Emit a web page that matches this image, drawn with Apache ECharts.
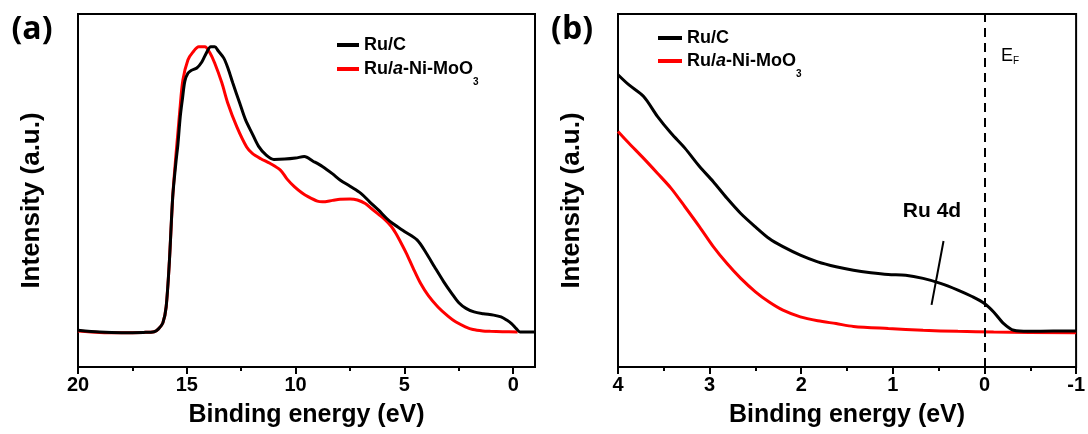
<!DOCTYPE html>
<html>
<head>
<meta charset="utf-8">
<script src="https://cdn.jsdelivr.net/npm/echarts@6/dist/echarts.min.js"></script>
<style>html,body{margin:0;padding:0;background:#fff}#c{width:1088px;height:434px}</style>
</head>
<body>
<div id="c"></div>
<script>
// Panel (a): [binding energy (eV), intensity (a.u.)]
const aRuC = [[20,10.4],[19,9.9],[18,9.7],[17,9.8],[16.5,10.0],[16.3,10.8],[16.1,12.5],[15.95,17],[15.8,30],[15.65,48],[15.5,58],[15.41,63],[15.3,71],[15.2,76],[15.09,81],[14.95,83.2],[14.8,84],[14.54,84.7],[14.31,86.4],[14.08,89.2],[13.9,90.7],[13.72,90.7],[13.55,89.5],[13.3,87.5],[13.1,84.5],[12.89,80.5],[12.57,74.8],[12.3,70],[12.0,66.2],[11.7,62.5],[11.35,60],[11.0,58.8],[10.5,58.9],[10.0,59.2],[9.6,59.6],[9.2,58.3],[8.77,56.8],[8.3,54.7],[7.96,53.0],[7.5,51.2],[7.0,49.2],[6.6,46.8],[6.2,44.5],[5.8,42],[5.55,40.7],[5.0,38.4],[4.42,36.0],[4.0,32.3],[3.62,28.4],[3.2,24.2],[2.82,20.8],[2.5,18.2],[2.17,16.6],[1.8,15.6],[1.37,15.1],[0.9,14.7],[0.56,14.2],[0.3,13.3],[0.08,12.3],[-0.15,10.8],[-0.32,9.9],[-0.6,9.9],[-1.0,9.9]];
const aRuNi = [[20,10.2],[19,9.8],[18,9.7],[17,9.8],[16.5,10.0],[16.3,10.8],[16.1,12.5],[15.95,17],[15.8,30],[15.65,48],[15.5,60],[15.4,67],[15.32,72.8],[15.18,81.3],[14.95,87],[14.72,89.2],[14.45,90.7],[14.17,90.7],[13.94,89],[13.72,86.1],[13.39,80.5],[13.12,74.8],[12.7,68],[12.25,62.3],[11.99,60.5],[11.6,59],[11.18,57.7],[10.7,55.8],[10.4,53.3],[10.06,51.1],[9.7,49.3],[9.41,48.2],[9.0,47.0],[8.77,46.8],[8.3,47.2],[7.96,47.5],[7.5,47.6],[7.16,47.3],[6.8,46.3],[6.52,44.9],[6.2,43.3],[5.87,41.6],[5.6,39.8],[5.39,37.8],[5.1,34.5],[4.91,32.2],[4.6,28],[4.26,23.7],[3.9,20.2],[3.46,17.0],[3.0,14.4],[2.65,12.8],[2.2,11.4],[1.85,10.6],[1.4,10.2],[1.05,10.1],[0.5,10.0],[-0.2,9.9]];
// Panel (b)
const bRuC = [[4.0,82.8],[3.88,79.9],[3.72,76.6],[3.57,71.0],[3.42,66.2],[3.27,62.0],[3.11,56.8],[2.96,52.5],[2.81,47.8],[2.66,43.5],[2.5,39.7],[2.35,36.4],[2.2,34.1],[2.01,31.7],[1.82,29.8],[1.62,28.4],[1.43,27.4],[1.24,26.7],[1.05,26.2],[0.86,26.0],[0.67,25.1],[0.48,23.7],[0.29,21.8],[0.13,19.9],[0.0,18.0],[-0.1,15.6],[-0.21,12.3],[-0.32,10.4],[-0.48,10.1],[-0.75,10.2],[-1.0,10.2]];
const bRuNi = [[4.0,66.7],[3.88,63.4],[3.72,59.1],[3.57,54.9],[3.42,50.6],[3.27,45.4],[3.11,39.7],[2.96,34.1],[2.81,29.3],[2.66,25.1],[2.5,21.3],[2.35,18.4],[2.2,16.1],[2.01,14.2],[1.82,13.1],[1.62,12.3],[1.43,11.5],[1.05,10.9],[0.67,10.4],[0.29,10.1],[-0.1,9.9],[-1.0,9.7]];
const seriesNames = ['Ru/C', 'Ru/a-Ni-MoO3'];
const panelLabels = ['(a)', '(b)'];
const xTicksA = [20, 15, 10, 5, 0];
const fermiLevel = 0;
const annotLine = [[0.447,35.7],[0.578,17.6]];

const FONT = '"Liberation Sans", Arial, sans-serif';
const legendRich = {
  n: {fontSize: 18, fontWeight: 'bold', fontFamily: FONT, color: '#000', lineHeight: 36},
  i: {fontSize: 18, fontWeight: 'bold', fontStyle: 'italic', fontFamily: FONT, color: '#000', lineHeight: 36},
  s: {fontSize: 10, fontWeight: 'bold', fontFamily: FONT, color: '#000', lineHeight: 10, verticalAlign: 'bottom'}
};
function legendFmt(name) {
  if (name === seriesNames[1]) return '{n|Ru/}{i|a}{n|-Ni-MoO}{s|3}';
  return '{n|' + name + '}';
}
function mkLegend(name, left, top, w) {
  return {
    data: [name], left: left, top: top, padding: 0, orient: 'vertical',
    icon: 'rect', itemWidth: w, itemHeight: 4, itemGap: 0,
    formatter: legendFmt, textStyle: {rich: legendRich}, selectedMode: false
  };
}
function xAxisCfg(gi, min, max, opts) {
  return Object.assign({
    type: 'value', gridIndex: gi, inverse: true, min: min, max: max,
    name: 'Binding energy (eV)', nameLocation: 'middle', nameGap: 36,
    nameTextStyle: {fontSize: 25, fontWeight: 'bold', fontFamily: FONT, color: '#000'},
    axisLine: {show: true, onZero: false, lineStyle: {color: '#000', width: 2}},
    axisTick: {show: true, inside: false, length: 7, lineStyle: {color: '#000', width: 2}},
    minorTick: {show: true, splitNumber: 2, length: 4, lineStyle: {color: '#000', width: 2}},
    axisLabel: {fontSize: 20, fontWeight: 'bold', fontFamily: FONT, color: '#000', margin: 8},
    splitLine: {show: false}, minorSplitLine: {show: false}
  }, opts || {});
}
function yAxisCfg(gi) {
  return {
    type: 'value', gridIndex: gi, min: 0, max: 100,
    name: 'Intensity (a.u.)', nameLocation: 'middle', nameGap: 33,
    nameTextStyle: {fontSize: 26, fontWeight: 'bold', fontFamily: FONT, color: '#000', padding: [0, 20, 0, 0]},
    axisLine: {show: false},
    axisTick: {show: false}, axisLabel: {show: false}, splitLine: {show: false}
  };
}
function line(name, data, color, xi, extra) {
  return Object.assign({
    type: 'line', name: name, data: data, xAxisIndex: xi, yAxisIndex: xi,
    showSymbol: false, symbol: 'none', smooth: 0.3, silent: true,
    lineStyle: {color: color, width: 3}, itemStyle: {color: color}
  }, extra || {});
}

const chart = echarts.init(document.getElementById('c'), null, {renderer: 'canvas'});
chart.setOption({
  animation: false,
  backgroundColor: '#fff',
  grid: [
    {left: 78, right: 553, top: 14, bottom: 67, show: true, borderColor: '#000', borderWidth: 2, containLabel: false},
    {left: 618, right: 11, top: 14, bottom: 67, show: true, borderColor: '#000', borderWidth: 2, containLabel: false}
  ],
  xAxis: [
    xAxisCfg(0, -1, 20, {
      splitNumber: 4,
      axisTick: {show: true, inside: false, length: 7, customValues: xTicksA, lineStyle: {color: '#000', width: 2}},
      axisLabel: {fontSize: 20, fontWeight: 'bold', fontFamily: FONT, color: '#000', margin: 8, customValues: xTicksA}
    }),
    xAxisCfg(1, -1, 4, {interval: 1})
  ],
  yAxis: [yAxisCfg(0), yAxisCfg(1)],
  legend: [
    mkLegend(seriesNames[0], 337, 36, 22),
    mkLegend(seriesNames[1], 337, 60, 22),
    mkLegend(seriesNames[0], 658, 29, 24),
    mkLegend(seriesNames[1], 658, 52, 24)
  ],
  series: [
    line(seriesNames[1], aRuNi, '#ff0000', 0),
    line(seriesNames[0], aRuC, '#000000', 0),
    line(seriesNames[1], bRuNi, '#ff0000', 1),
    line(seriesNames[0], bRuC, '#000000', 1, {
      markLine: {
        silent: true, symbol: ['none', 'none'], animation: false,
        label: {show: false},
        lineStyle: {color: '#000', width: 2, type: [9, 6]},
        data: [
          [{coord: annotLine[0], lineStyle: {color: '#000', width: 2, type: 'solid'}}, {coord: annotLine[1]}],
          {xAxis: fermiLevel}
        ]
      }
    })
  ],
  graphic: [
    {type: 'text', x: 32, y: 30, style: {text: panelLabels[0], font: 'bold 32px "Open Sans"', fill: '#000', align: 'center', verticalAlign: 'middle'}},
    {type: 'text', x: 572, y: 30, style: {text: panelLabels[1], font: 'bold 32px "Open Sans"', fill: '#000', align: 'center', verticalAlign: 'middle'}},
    {type: 'text', x: 932, y: 211, style: {text: 'Ru 4d', font: 'bold 21px ' + FONT, fill: '#000', align: 'center', verticalAlign: 'middle'}},
    {type: 'text', x: 1001, y: 56, style: {
      text: '{e|E}{f|F}', align: 'left', verticalAlign: 'middle',
      rich: {
        e: {fontSize: 18, fontFamily: FONT, fill: '#000', lineHeight: 21},
        f: {fontSize: 10, fontFamily: FONT, fill: '#000', lineHeight: 10, verticalAlign: 'bottom'}
      }
    }}
  ]
});
</script>
</body>
</html>
